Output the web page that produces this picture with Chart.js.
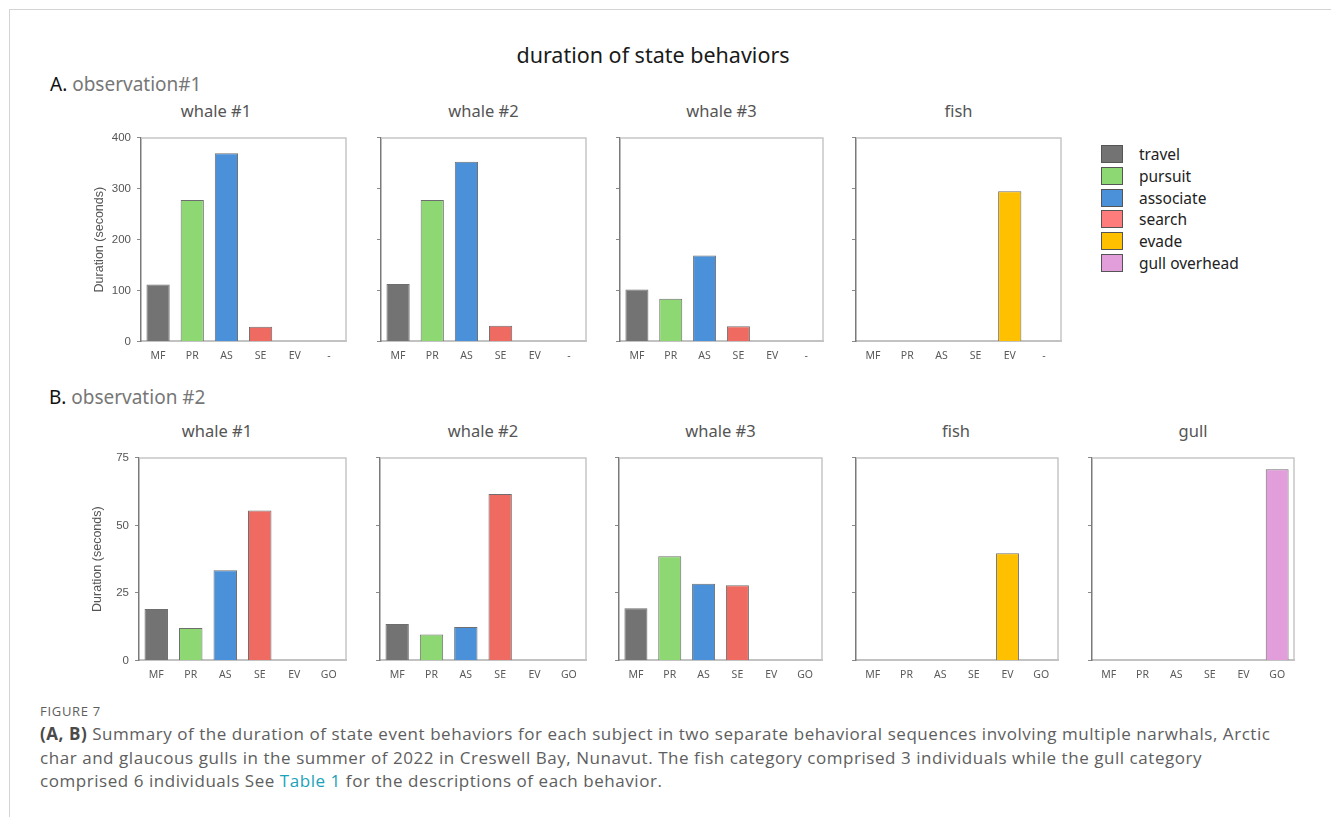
<!DOCTYPE html>
<html>
<head>
<meta charset="utf-8">
<script src="https://cdn.jsdelivr.net/npm/chart.js@4.4.1/dist/chart.umd.min.js"></script>
<style>
  body { margin: 0; background: #fff; width: 1331px; height: 817px; overflow: hidden; position: relative; font-family: "Noto Sans", sans-serif; }
  .frame { position: absolute; left: 9px; top: 9px; width: 1400px; height: 900px; border-left: 1px solid #d4d4d4; border-top: 1px solid #d4d4d4; }
  .txt { position: absolute; white-space: nowrap; }
  .panel { position: absolute; }
  .legend { position: absolute; left: 1101px; top: 144px; }
  .legend .row { position: relative; height: 21.8px; }
  .legend .box { position: absolute; left: 0; top: 1px; width: 22px; height: 18px; border: 1px solid #555; box-sizing: border-box; }
  .legend .lbl { position: absolute; left: 38px; top: 0; font-size: 15.5px; line-height: 20px; color: #222; white-space: nowrap; }
  .caption { position: absolute; left: 40px; font-family: "Open Sans", sans-serif; color: #5e5e5e; white-space: nowrap; }
</style>
</head>
<body>
<div class="frame"></div>

<div class="txt" style="left:0;width:1306px;text-align:center;top:41px;font-size:21.5px;line-height:28px;color:#1a1a1a;">duration of state behaviors</div>
<div class="txt" style="left:50px;top:71px;font-size:19px;line-height:26px;"><span style="color:#111">A.</span> <span style="color:#777">observation#1</span></div>
<div class="txt" style="left:49px;top:384px;font-size:19px;line-height:26px;"><span style="color:#111">B.</span> <span style="color:#777">observation #2</span></div>

<div class="legend" id="legend"></div>

<div class="caption" style="top:702px;font-size:13px;line-height:18px;letter-spacing:0.7px;">FIGURE 7</div>
<div class="caption" style="top:722px;font-size:17px;line-height:24px;letter-spacing:0.55px;"><b style="color:#4a4a4a">(A, B)</b> Summary of the duration of state event behaviors for each subject in two separate behavioral sequences involving multiple narwhals, Arctic</div>
<div class="caption" style="top:746px;font-size:17px;line-height:24px;letter-spacing:0.55px;">char and glaucous gulls in the summer of 2022 in Creswell Bay, Nunavut. The fish category comprised 3 individuals while the gull category</div>
<div class="caption" style="top:769px;font-size:17px;line-height:24px;letter-spacing:0.55px;">comprised 6 individuals See <span style="color:#1ba2b8">Table 1</span> for the descriptions of each behavior.</div>

<script>
// behaviour codes on the x axis
const catsObs1 = ['MF', 'PR', 'AS', 'SE', 'EV', '-'];
const catsObs2 = ['MF', 'PR', 'AS', 'SE', 'EV', 'GO'];

// legend entries and fill colours, one per behaviour code
const behaviorNames = ['travel', 'pursuit', 'associate', 'search', 'evade', 'gull overhead'];
const behaviorColors = ['#737373', '#8ed873', '#4a91d9', '#ef6b61', '#ffc000', '#e29ddb'];
const legendColors = ['#737373', '#8ed873', '#4a91d9', '#ff7c7c', '#ffc000', '#e29ddb'];

// observation #1, seconds
const obs1Whale1 = [112, 278, 370, 29, null, null];
const obs1Whale2 = [113, 278, 353, 31, null, null];
const obs1Whale3 = [102, 84, 169, 30, null, null];
const obs1Fish = [null, null, null, null, 295, null];

// observation #2, seconds
const obs2Whale1 = [19, 12, 33.4, 55.5, null, null];
const obs2Whale2 = [13.5, 9.6, 12.4, 61.6, null, null];
const obs2Whale3 = [19.3, 38.6, 28.4, 27.8, null, null];
const obs2Fish = [null, null, null, null, 39.7, null];
const obs2Gull = [null, null, null, null, null, 70.8];

// y axis ranges per row
const obs1Max = 400, obs1Step = 100;
const obs2Max = 75, obs2Step = 25;

// legend
const legendEl = document.getElementById('legend');
behaviorNames.forEach((name, i) => {
    const row = document.createElement('div');
    row.className = 'row';
    row.innerHTML = '<div class="box" style="background:' + legendColors[i] + '"></div><div class="lbl">' + name + '</div>';
    legendEl.appendChild(row);
});

// light frame along the top and right of the plot area
const frameBox = {
    id: 'frameBox',
    beforeDatasetsDraw(chart) {
        const { ctx, chartArea: a } = chart;
        ctx.save();
        ctx.strokeStyle = '#c6c6c6';
        ctx.lineWidth = 1.5;
        ctx.beginPath();
        ctx.moveTo(a.left, a.top);
        ctx.lineTo(a.right, a.top);
        ctx.lineTo(a.right, a.bottom);
        ctx.stroke();
        ctx.restore();
    }
};

const buildConfig = (p, yW) => ({
    type: 'bar',
    data: {
        labels: p.labels,
        datasets: [{
            data: p.values,
            backgroundColor: behaviorColors,
            borderColor: '#6e6e6e',
            borderWidth: 1,
            categoryPercentage: 1,
            barPercentage: 0.68
        }]
    },
    options: {
        responsive: false,
        animation: false,
        events: [],
        layout: { padding: { top: 10, right: 10, left: 0, bottom: 0 } },
        plugins: { legend: { display: false }, tooltip: { enabled: false } },
        scales: {
            x: {
                grid: { display: false, drawTicks: false },
                border: { color: '#c2c2c2', width: 2 },
                ticks: { color: '#5a5a5a', padding: 8, font: { family: 'Noto Sans', size: 10.5 } }
            },
            y: {
                min: 0,
                max: p.max,
                grid: { drawOnChartArea: false, drawTicks: true, tickLength: 4, color: '#8a8a8a', lineWidth: 1 },
                border: { color: '#7a7a7a', width: 1.5 },
                ticks: {
                    stepSize: p.step,
                    padding: 6,
                    color: '#555',
                    font: { family: 'Liberation Sans', size: 11.5 },
                    callback: v => p.yTitle ? v : ''
                },
                title: {
                    display: !!p.yTitle,
                    text: 'Duration (seconds)',
                    color: '#555',
                    padding: { top: 3, bottom: 3 },
                    font: { family: 'Liberation Sans', size: 12.5 }
                },
                afterFit: s => { s.width = yW; }
            }
        }
    },
    plugins: [frameBox]
});

// places one subject chart so that its plot area sits on the given rectangle
const makePanel = p => {
    const holder = document.createElement('div');
    holder.className = 'panel';
    document.body.appendChild(holder);

    const yW = p.yTitle ? 52 : 10;
    let cw = yW + p.w + 10, ch = p.h + 40;
    let chart = null;
    for (let pass = 0; pass < 3; pass++) {
        if (chart) chart.destroy();
        holder.innerHTML = '';
        const canvas = document.createElement('canvas');
        canvas.width = cw; canvas.height = ch;
        canvas.style.width = cw + 'px'; canvas.style.height = ch + 'px';
        holder.appendChild(canvas);
        chart = new Chart(canvas, buildConfig(p, yW));
        const a = chart.chartArea;
        const dw = Math.round(p.w - (a.right - a.left)), dh = Math.round(p.h - (a.bottom - a.top));
        if (dw === 0 && dh === 0) break;
        cw += dw; ch += dh;
    }
    const a = chart.chartArea;
    holder.style.left = Math.round(p.left - a.left) + 'px';
    holder.style.top = Math.round(p.top - a.top) + 'px';

    // subject name above the plot
    const t = document.createElement('div');
    t.className = 'txt';
    t.textContent = p.title;
    t.style.cssText += 'width:200px;text-align:center;font-size:16.5px;line-height:20px;color:#555;';
    const cx = p.titleX || (p.left + p.w / 2);
    t.style.left = (cx - 100) + 'px';
    t.style.top = (p.titleY - 10) + 'px';
    document.body.appendChild(t);
};

const row1 = { labels: catsObs1, max: obs1Max, step: obs1Step, top: 138, h: 203, titleY: 111 };
const row2 = { labels: catsObs2, max: obs2Max, step: obs2Step, top: 458, h: 202, titleY: 431 };

makePanel({ ...row1, values: obs1Whale1, title: 'whale #1', left: 141, w: 205, yTitle: true, titleX: 216 });
makePanel({ ...row1, values: obs1Whale2, title: 'whale #2', left: 381, w: 205 });
makePanel({ ...row1, values: obs1Whale3, title: 'whale #3', left: 620, w: 203 });
makePanel({ ...row1, values: obs1Fish, title: 'fish', left: 856, w: 205 });

makePanel({ ...row2, values: obs2Whale1, title: 'whale #1', left: 139, w: 207, yTitle: true, titleX: 217 });
makePanel({ ...row2, values: obs2Whale2, title: 'whale #2', left: 380, w: 206 });
makePanel({ ...row2, values: obs2Whale3, title: 'whale #3', left: 619, w: 203 });
makePanel({ ...row2, values: obs2Fish, title: 'fish', left: 856, w: 202, titleX: 956 });
makePanel({ ...row2, values: obs2Gull, title: 'gull', left: 1092, w: 202 });
</script>
</body>
</html>
